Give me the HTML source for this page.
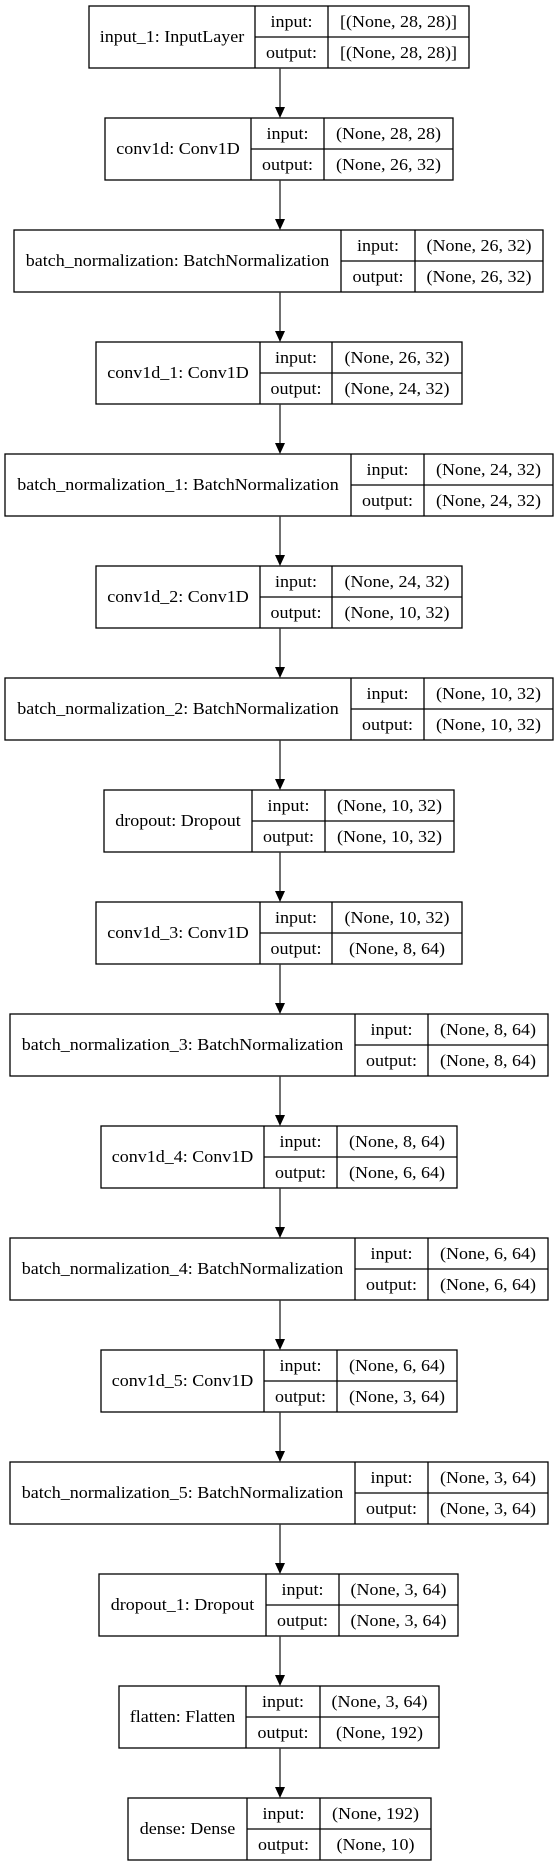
<!DOCTYPE html>
<html><head><meta charset="utf-8"><style>
html,body{margin:0;padding:0;background:#fff;}
svg{display:block}
text{font-family:"Liberation Serif",serif;font-size:17px;fill:#000;}
rect,line.b{fill:none;stroke:#000;stroke-width:1.3}
line.a{stroke:#333;stroke-width:1.4}
</style></head><body>
<svg width="560" height="1867" viewBox="0 0 560 1867" xmlns="http://www.w3.org/2000/svg">
<g transform="translate(0,6)">
<rect x="89" y="0" width="380" height="62"/><line class="b" x1="255" y1="0" x2="255" y2="62"/><line class="b" x1="328" y1="0" x2="328" y2="62"/><line class="b" x1="255" y1="31" x2="469" y2="31"/>
<text text-anchor="middle" transform="translate(172,36) scale(1.06,1)">input_1: InputLayer</text>
<text text-anchor="middle" transform="translate(291.5,21) scale(1.06,1)">input:</text>
<text text-anchor="middle" transform="translate(291.5,52) scale(1.06,1)">output:</text>
<text text-anchor="middle" transform="translate(398.5,21) scale(1.06,1)">[(None, 28, 28)]</text>
<text text-anchor="middle" transform="translate(398.5,52) scale(1.06,1)">[(None, 28, 28)]</text>
</g>
<g transform="translate(0,118)">
<rect x="105" y="0" width="348" height="62"/><line class="b" x1="251" y1="0" x2="251" y2="62"/><line class="b" x1="324" y1="0" x2="324" y2="62"/><line class="b" x1="251" y1="31" x2="453" y2="31"/>
<text text-anchor="middle" transform="translate(178,36) scale(1.06,1)">conv1d: Conv1D</text>
<text text-anchor="middle" transform="translate(287.5,21) scale(1.06,1)">input:</text>
<text text-anchor="middle" transform="translate(287.5,52) scale(1.06,1)">output:</text>
<text text-anchor="middle" transform="translate(388.5,21) scale(1.06,1)">(None, 28, 28)</text>
<text text-anchor="middle" transform="translate(388.5,52) scale(1.06,1)">(None, 26, 32)</text>
</g>
<g transform="translate(0,230)">
<rect x="14" y="0" width="529" height="62"/><line class="b" x1="341" y1="0" x2="341" y2="62"/><line class="b" x1="415" y1="0" x2="415" y2="62"/><line class="b" x1="341" y1="31" x2="543" y2="31"/>
<text text-anchor="middle" transform="translate(177.5,36) scale(1.06,1)">batch_normalization: BatchNormalization</text>
<text text-anchor="middle" transform="translate(378,21) scale(1.06,1)">input:</text>
<text text-anchor="middle" transform="translate(378,52) scale(1.06,1)">output:</text>
<text text-anchor="middle" transform="translate(479,21) scale(1.06,1)">(None, 26, 32)</text>
<text text-anchor="middle" transform="translate(479,52) scale(1.06,1)">(None, 26, 32)</text>
</g>
<g transform="translate(0,342)">
<rect x="96" y="0" width="366" height="62"/><line class="b" x1="260" y1="0" x2="260" y2="62"/><line class="b" x1="332" y1="0" x2="332" y2="62"/><line class="b" x1="260" y1="31" x2="462" y2="31"/>
<text text-anchor="middle" transform="translate(178,36) scale(1.06,1)">conv1d_1: Conv1D</text>
<text text-anchor="middle" transform="translate(296,21) scale(1.06,1)">input:</text>
<text text-anchor="middle" transform="translate(296,52) scale(1.06,1)">output:</text>
<text text-anchor="middle" transform="translate(397,21) scale(1.06,1)">(None, 26, 32)</text>
<text text-anchor="middle" transform="translate(397,52) scale(1.06,1)">(None, 24, 32)</text>
</g>
<g transform="translate(0,454)">
<rect x="5" y="0" width="548" height="62"/><line class="b" x1="351" y1="0" x2="351" y2="62"/><line class="b" x1="424" y1="0" x2="424" y2="62"/><line class="b" x1="351" y1="31" x2="553" y2="31"/>
<text text-anchor="middle" transform="translate(178,36) scale(1.06,1)">batch_normalization_1: BatchNormalization</text>
<text text-anchor="middle" transform="translate(387.5,21) scale(1.06,1)">input:</text>
<text text-anchor="middle" transform="translate(387.5,52) scale(1.06,1)">output:</text>
<text text-anchor="middle" transform="translate(488.5,21) scale(1.06,1)">(None, 24, 32)</text>
<text text-anchor="middle" transform="translate(488.5,52) scale(1.06,1)">(None, 24, 32)</text>
</g>
<g transform="translate(0,566)">
<rect x="96" y="0" width="366" height="62"/><line class="b" x1="260" y1="0" x2="260" y2="62"/><line class="b" x1="332" y1="0" x2="332" y2="62"/><line class="b" x1="260" y1="31" x2="462" y2="31"/>
<text text-anchor="middle" transform="translate(178,36) scale(1.06,1)">conv1d_2: Conv1D</text>
<text text-anchor="middle" transform="translate(296,21) scale(1.06,1)">input:</text>
<text text-anchor="middle" transform="translate(296,52) scale(1.06,1)">output:</text>
<text text-anchor="middle" transform="translate(397,21) scale(1.06,1)">(None, 24, 32)</text>
<text text-anchor="middle" transform="translate(397,52) scale(1.06,1)">(None, 10, 32)</text>
</g>
<g transform="translate(0,678)">
<rect x="5" y="0" width="548" height="62"/><line class="b" x1="351" y1="0" x2="351" y2="62"/><line class="b" x1="424" y1="0" x2="424" y2="62"/><line class="b" x1="351" y1="31" x2="553" y2="31"/>
<text text-anchor="middle" transform="translate(178,36) scale(1.06,1)">batch_normalization_2: BatchNormalization</text>
<text text-anchor="middle" transform="translate(387.5,21) scale(1.06,1)">input:</text>
<text text-anchor="middle" transform="translate(387.5,52) scale(1.06,1)">output:</text>
<text text-anchor="middle" transform="translate(488.5,21) scale(1.06,1)">(None, 10, 32)</text>
<text text-anchor="middle" transform="translate(488.5,52) scale(1.06,1)">(None, 10, 32)</text>
</g>
<g transform="translate(0,790)">
<rect x="104" y="0" width="350" height="62"/><line class="b" x1="252" y1="0" x2="252" y2="62"/><line class="b" x1="325" y1="0" x2="325" y2="62"/><line class="b" x1="252" y1="31" x2="454" y2="31"/>
<text text-anchor="middle" transform="translate(178,36) scale(1.06,1)">dropout: Dropout</text>
<text text-anchor="middle" transform="translate(288.5,21) scale(1.06,1)">input:</text>
<text text-anchor="middle" transform="translate(288.5,52) scale(1.06,1)">output:</text>
<text text-anchor="middle" transform="translate(389.5,21) scale(1.06,1)">(None, 10, 32)</text>
<text text-anchor="middle" transform="translate(389.5,52) scale(1.06,1)">(None, 10, 32)</text>
</g>
<g transform="translate(0,902)">
<rect x="96" y="0" width="366" height="62"/><line class="b" x1="260" y1="0" x2="260" y2="62"/><line class="b" x1="332" y1="0" x2="332" y2="62"/><line class="b" x1="260" y1="31" x2="462" y2="31"/>
<text text-anchor="middle" transform="translate(178,36) scale(1.06,1)">conv1d_3: Conv1D</text>
<text text-anchor="middle" transform="translate(296,21) scale(1.06,1)">input:</text>
<text text-anchor="middle" transform="translate(296,52) scale(1.06,1)">output:</text>
<text text-anchor="middle" transform="translate(397,21) scale(1.06,1)">(None, 10, 32)</text>
<text text-anchor="middle" transform="translate(397,52) scale(1.06,1)">(None, 8, 64)</text>
</g>
<g transform="translate(0,1014)">
<rect x="10" y="0" width="538" height="62"/><line class="b" x1="355" y1="0" x2="355" y2="62"/><line class="b" x1="428" y1="0" x2="428" y2="62"/><line class="b" x1="355" y1="31" x2="548" y2="31"/>
<text text-anchor="middle" transform="translate(182.5,36) scale(1.06,1)">batch_normalization_3: BatchNormalization</text>
<text text-anchor="middle" transform="translate(391.5,21) scale(1.06,1)">input:</text>
<text text-anchor="middle" transform="translate(391.5,52) scale(1.06,1)">output:</text>
<text text-anchor="middle" transform="translate(488,21) scale(1.06,1)">(None, 8, 64)</text>
<text text-anchor="middle" transform="translate(488,52) scale(1.06,1)">(None, 8, 64)</text>
</g>
<g transform="translate(0,1126)">
<rect x="101" y="0" width="356" height="62"/><line class="b" x1="264" y1="0" x2="264" y2="62"/><line class="b" x1="337" y1="0" x2="337" y2="62"/><line class="b" x1="264" y1="31" x2="457" y2="31"/>
<text text-anchor="middle" transform="translate(182.5,36) scale(1.06,1)">conv1d_4: Conv1D</text>
<text text-anchor="middle" transform="translate(300.5,21) scale(1.06,1)">input:</text>
<text text-anchor="middle" transform="translate(300.5,52) scale(1.06,1)">output:</text>
<text text-anchor="middle" transform="translate(397,21) scale(1.06,1)">(None, 8, 64)</text>
<text text-anchor="middle" transform="translate(397,52) scale(1.06,1)">(None, 6, 64)</text>
</g>
<g transform="translate(0,1238)">
<rect x="10" y="0" width="538" height="62"/><line class="b" x1="355" y1="0" x2="355" y2="62"/><line class="b" x1="428" y1="0" x2="428" y2="62"/><line class="b" x1="355" y1="31" x2="548" y2="31"/>
<text text-anchor="middle" transform="translate(182.5,36) scale(1.06,1)">batch_normalization_4: BatchNormalization</text>
<text text-anchor="middle" transform="translate(391.5,21) scale(1.06,1)">input:</text>
<text text-anchor="middle" transform="translate(391.5,52) scale(1.06,1)">output:</text>
<text text-anchor="middle" transform="translate(488,21) scale(1.06,1)">(None, 6, 64)</text>
<text text-anchor="middle" transform="translate(488,52) scale(1.06,1)">(None, 6, 64)</text>
</g>
<g transform="translate(0,1350)">
<rect x="101" y="0" width="356" height="62"/><line class="b" x1="264" y1="0" x2="264" y2="62"/><line class="b" x1="337" y1="0" x2="337" y2="62"/><line class="b" x1="264" y1="31" x2="457" y2="31"/>
<text text-anchor="middle" transform="translate(182.5,36) scale(1.06,1)">conv1d_5: Conv1D</text>
<text text-anchor="middle" transform="translate(300.5,21) scale(1.06,1)">input:</text>
<text text-anchor="middle" transform="translate(300.5,52) scale(1.06,1)">output:</text>
<text text-anchor="middle" transform="translate(397,21) scale(1.06,1)">(None, 6, 64)</text>
<text text-anchor="middle" transform="translate(397,52) scale(1.06,1)">(None, 3, 64)</text>
</g>
<g transform="translate(0,1462)">
<rect x="10" y="0" width="538" height="62"/><line class="b" x1="355" y1="0" x2="355" y2="62"/><line class="b" x1="428" y1="0" x2="428" y2="62"/><line class="b" x1="355" y1="31" x2="548" y2="31"/>
<text text-anchor="middle" transform="translate(182.5,36) scale(1.06,1)">batch_normalization_5: BatchNormalization</text>
<text text-anchor="middle" transform="translate(391.5,21) scale(1.06,1)">input:</text>
<text text-anchor="middle" transform="translate(391.5,52) scale(1.06,1)">output:</text>
<text text-anchor="middle" transform="translate(488,21) scale(1.06,1)">(None, 3, 64)</text>
<text text-anchor="middle" transform="translate(488,52) scale(1.06,1)">(None, 3, 64)</text>
</g>
<g transform="translate(0,1574)">
<rect x="99" y="0" width="359" height="62"/><line class="b" x1="266" y1="0" x2="266" y2="62"/><line class="b" x1="339" y1="0" x2="339" y2="62"/><line class="b" x1="266" y1="31" x2="458" y2="31"/>
<text text-anchor="middle" transform="translate(182.5,36) scale(1.06,1)">dropout_1: Dropout</text>
<text text-anchor="middle" transform="translate(302.5,21) scale(1.06,1)">input:</text>
<text text-anchor="middle" transform="translate(302.5,52) scale(1.06,1)">output:</text>
<text text-anchor="middle" transform="translate(398.5,21) scale(1.06,1)">(None, 3, 64)</text>
<text text-anchor="middle" transform="translate(398.5,52) scale(1.06,1)">(None, 3, 64)</text>
</g>
<g transform="translate(0,1686)">
<rect x="119" y="0" width="320" height="62"/><line class="b" x1="246" y1="0" x2="246" y2="62"/><line class="b" x1="320" y1="0" x2="320" y2="62"/><line class="b" x1="246" y1="31" x2="439" y2="31"/>
<text text-anchor="middle" transform="translate(182.5,36) scale(1.06,1)">flatten: Flatten</text>
<text text-anchor="middle" transform="translate(283,21) scale(1.06,1)">input:</text>
<text text-anchor="middle" transform="translate(283,52) scale(1.06,1)">output:</text>
<text text-anchor="middle" transform="translate(379.5,21) scale(1.06,1)">(None, 3, 64)</text>
<text text-anchor="middle" transform="translate(379.5,52) scale(1.06,1)">(None, 192)</text>
</g>
<g transform="translate(0,1798)">
<rect x="128" y="0" width="303" height="62"/><line class="b" x1="247" y1="0" x2="247" y2="62"/><line class="b" x1="320" y1="0" x2="320" y2="62"/><line class="b" x1="247" y1="31" x2="431" y2="31"/>
<text text-anchor="middle" transform="translate(187.5,36) scale(1.06,1)">dense: Dense</text>
<text text-anchor="middle" transform="translate(283.5,21) scale(1.06,1)">input:</text>
<text text-anchor="middle" transform="translate(283.5,52) scale(1.06,1)">output:</text>
<text text-anchor="middle" transform="translate(375.5,21) scale(1.06,1)">(None, 192)</text>
<text text-anchor="middle" transform="translate(375.5,52) scale(1.06,1)">(None, 10)</text>
</g>
<g>
<line class="a" x1="280" y1="68" x2="280" y2="108"/><polygon points="275,107 285,107 280,118"/>
<line class="a" x1="280" y1="180" x2="280" y2="220"/><polygon points="275,219 285,219 280,230"/>
<line class="a" x1="280" y1="292" x2="280" y2="332"/><polygon points="275,331 285,331 280,342"/>
<line class="a" x1="280" y1="404" x2="280" y2="444"/><polygon points="275,443 285,443 280,454"/>
<line class="a" x1="280" y1="516" x2="280" y2="556"/><polygon points="275,555 285,555 280,566"/>
<line class="a" x1="280" y1="628" x2="280" y2="668"/><polygon points="275,667 285,667 280,678"/>
<line class="a" x1="280" y1="740" x2="280" y2="780"/><polygon points="275,779 285,779 280,790"/>
<line class="a" x1="280" y1="852" x2="280" y2="892"/><polygon points="275,891 285,891 280,902"/>
<line class="a" x1="280" y1="964" x2="280" y2="1004"/><polygon points="275,1003 285,1003 280,1014"/>
<line class="a" x1="280" y1="1076" x2="280" y2="1116"/><polygon points="275,1115 285,1115 280,1126"/>
<line class="a" x1="280" y1="1188" x2="280" y2="1228"/><polygon points="275,1227 285,1227 280,1238"/>
<line class="a" x1="280" y1="1300" x2="280" y2="1340"/><polygon points="275,1339 285,1339 280,1350"/>
<line class="a" x1="280" y1="1412" x2="280" y2="1452"/><polygon points="275,1451 285,1451 280,1462"/>
<line class="a" x1="280" y1="1524" x2="280" y2="1564"/><polygon points="275,1563 285,1563 280,1574"/>
<line class="a" x1="280" y1="1636" x2="280" y2="1676"/><polygon points="275,1675 285,1675 280,1686"/>
<line class="a" x1="280" y1="1748" x2="280" y2="1788"/><polygon points="275,1787 285,1787 280,1798"/>
</g>
</svg>
</body></html>
